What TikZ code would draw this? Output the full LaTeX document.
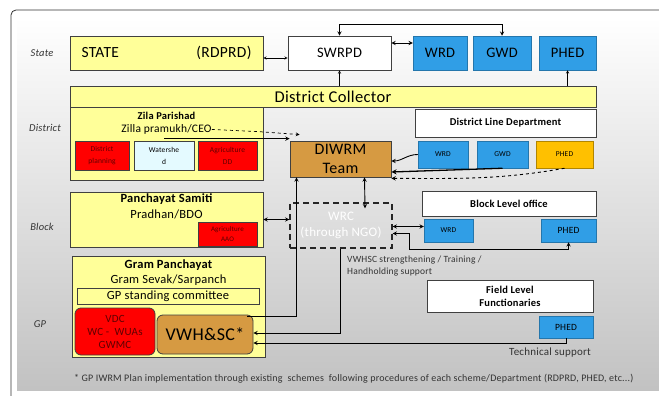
\documentclass[tikz,border=0pt]{standalone}
\usepackage{fontspec}
\setmainfont{Carlito}[LetterSpace=2]
\usetikzlibrary{arrows.meta, positioning, calc}

\definecolor{boxyellow}{RGB}{255,255,153}
\definecolor{deptblue}{RGB}{48,158,230}
\definecolor{teambrown}{RGB}{214,154,66}
\definecolor{phedorange}{RGB}{255,192,0}
\definecolor{shedcyan}{RGB}{228,250,255}
\definecolor{textred}{RGB}{95,0,0}

\begin{document}
\begin{tikzpicture}[x=1pt, y=-1pt,
    block/.style={rectangle, draw=black!75, line width=0.8pt, fill=boxyellow, inner sep=0pt, align=center},
    whitebox/.style={block, fill=white},
    redbox/.style={block, fill=red, text=textred, font=\fontsize{7.5}{12}\selectfont},
    dept/.style={rectangle, draw=deptblue!75!black, line width=0.5pt, fill=deptblue, inner sep=0pt, align=center},
    teambox/.style={block, fill=teambrown},
    wrcbox/.style={rectangle, draw=black!85, dashed, dash pattern=on 6pt off 4pt, line width=1.3pt, text=white, align=center, font=\fontsize{13}{16}\selectfont},
    title/.style={font=\bfseries\fontsize{12.5}{14}\selectfont, inner sep=0pt},
    sub/.style={font=\fontsize{12.5}{14}\selectfont, inner sep=0pt},
    head/.style={font=\bfseries\fontsize{10.5}{13}\selectfont},
    levellabel/.style={font=\itshape\fontsize{10.5}{12}\selectfont, text=black!80},
    annot/.style={font=\fontsize{10}{12}\selectfont, text=black!80, inner sep=0pt},
    arrow/.style={->, >=stealth, line width=0.9pt},
    biarrow/.style={<->, >=stealth, line width=0.9pt},
    dashedarrow/.style={->, >=stealth, dashed, line width=0.7pt}
  ]
  \useasboundingbox (0,0) rectangle (659,396);
  % --- Background panel ---
  \shade[top color=white, bottom color=black!24] (17,17) rectangle (659,390);
  \draw[black!80, line width=0.8pt, rounded corners=5pt] (11,396) -- (11,10) -- (659,10);

  % --- Level labels ---
  \node[levellabel] (lstate) at (42,53) {State};
  \node[levellabel] (ldistrict) at (45,128) {District};
  \node[levellabel] (lblock) at (42,227) {Block};
  \node[levellabel] (lgp) at (40,324) {GP};

  % --- State level ---
  \node[block, minimum width=193pt, minimum height=34pt, text width=170pt, font=\fontsize{15.5}{18}\selectfont] (state) at (166.5,53) {STATE\hfill(RDPRD)};
  \node[whitebox, minimum width=103pt, minimum height=34pt, font=\fontsize{14.5}{16}\selectfont] (swrpd) at (339.5,53) {SWRPD};
  \node[dept, minimum width=54pt, minimum height=34pt, font=\fontsize{14.5}{16}\selectfont] (swrd) at (440,53) {WRD};
  \node[dept, minimum width=58pt, minimum height=34pt, font=\fontsize{14.5}{16}\selectfont] (sgwd) at (502,53) {GWD};
  \node[dept, minimum width=57pt, minimum height=34pt, font=\fontsize{14.5}{16}\selectfont] (sphed) at (567.5,53) {PHED};

  % --- District level ---
  \node[block, minimum width=526pt, minimum height=21pt, font=\fontsize{16.5}{18}\selectfont] (dc) at (333,96.5) {District Collector};
  \node[block, minimum width=193pt, minimum height=73pt] (zp) at (166.5,143.5) {};
  \node[title, font=\bfseries\fontsize{10.5}{12}\selectfont] (zptitle) at (166.5,116) {Zila Parishad};
  \node[sub, font=\fontsize{11.5}{13}\selectfont] (ceo) at (166.5,129.5) {Zilla pramukh/CEO};
  \node[redbox, minimum width=54pt, minimum height=29pt] (dplan) at (102,155.5) {District\\planning};
  \node[block, fill=shedcyan, minimum width=60pt, minimum height=29pt, font=\fontsize{7.5}{12}\selectfont] (wshed) at (164,155.5) {Watershe\\d};
  \node[redbox, minimum width=59pt, minimum height=29pt] (agdd) at (227.5,155.5) {Agriculture\\DD};

  \node[whitebox, minimum width=181pt, minimum height=28pt, head] (dld) at (505.5,123) {District Line Department};
  \node[dept, minimum width=50pt, minimum height=27pt, font=\fontsize{7.5}{9}\selectfont] (dwrd) at (443,154.5) {WRD};
  \node[dept, minimum width=51pt, minimum height=27pt, font=\fontsize{7.5}{9}\selectfont] (dgwd) at (502.5,154.5) {GWD};
  \node[dept, fill=phedorange, draw=phedorange!70!black, minimum width=57pt, minimum height=27pt, font=\fontsize{7.5}{9}\selectfont] (dphed) at (564.5,154.5) {PHED};
  \node[teambox, minimum width=101pt, minimum height=36pt, font=\fontsize{16}{19}\selectfont] (diwrm) at (340.5,159) {DIWRM\\Team};

  % --- Block level ---
  \node[block, minimum width=193pt, minimum height=55pt] (ps) at (166.5,219.5) {};
  \node[title] (pstitle) at (166.5,199.5) {Panchayat Samiti};
  \node[sub] (bdo) at (166.5,214) {Pradhan/BDO};
  \node[redbox, minimum width=59pt, minimum height=24pt, font=\fontsize{7}{10}\selectfont] (aao) at (227.5,234) {Agriculture\\AAO};
  \node[wrcbox, minimum width=102pt, minimum height=45pt] (wrc) at (341,225.5) {WRC\\(through NGO)};
  \node[whitebox, minimum width=174pt, minimum height=25pt, head] (blo) at (509,203.5) {Block Level office};
  \node[dept, minimum width=49pt, minimum height=23pt, font=\fontsize{7.5}{9}\selectfont] (bwrd) at (448.5,230.5) {WRD};
  \node[dept, minimum width=55pt, minimum height=23pt, font=\fontsize{9.5}{11}\selectfont] (bphed) at (568.5,230.5) {PHED};

  % --- GP level ---
  \node[block, minimum width=193pt, minimum height=101pt] (gp) at (168.5,306.5) {};
  \node[title] (gptitle) at (168.5,265) {Gram Panchayat};
  \node[sub] (sarpanch) at (168.5,280.5) {Gram Sevak/Sarpanch};
  \node[block, minimum width=182pt, minimum height=16pt, font=\fontsize{12.5}{14}\selectfont] (gpsc) at (168,296) {GP standing committee};
  \node[block, fill=red, text=textred, rounded corners=6pt, minimum width=80pt, minimum height=47pt, font=\fontsize{11}{13}\selectfont] (vdc) at (115,331.5) {VDC\\WC -\ \ WUAs\\GWMC};
  \node[teambox, rounded corners=6pt, minimum width=96pt, minimum height=39pt, font=\fontsize{18}{20}\selectfont] (vwhsc) at (205,334.5) {VWH\&SC*};

  \node[whitebox, minimum width=166pt, minimum height=32pt, head] (flf) at (510,296) {Field Level\\Functionaries};
  \node[dept, minimum width=54pt, minimum height=22pt, font=\fontsize{9.5}{11}\selectfont] (fphed) at (566,327) {PHED};

  % --- Annotations ---
  \node[annot, anchor=west, align=left, font=\fontsize{9.5}{12.5}\selectfont] (vwhsctxt) at (347,266) {VWHSC strengthening / Training /\\Handholding support};
  \node[annot, font=\fontsize{11}{13}\selectfont] (techtxt) at (550,353) {Technical support};
  \node[annot, anchor=west] (footnote) at (74,379) {* GP IWRM Plan implementation through existing\ \ schemes\ \ following procedures of each scheme/Department (RDPRD, PHED, etc...)};

  % --- State connectors ---
  \draw[biarrow, line width=0.4pt] ([yshift=-5pt]state.east) -- ([yshift=-5pt]swrpd.west);
  \draw[biarrow] ([yshift=10pt]swrpd.east) -- ([yshift=10pt]swrd.west);
  \draw[biarrow] (swrpd.north) -- ++(0,-11) -| (sgwd.north);
  \draw[arrow, line width=0.5pt] (dc.north -| swrpd.south) -- (swrpd.south);
  \draw[arrow, line width=0.5pt] (dc.north -| sphed.south) -- (sphed.south);

  % --- District connectors ---
  \draw[dashedarrow] (ceo.east) -- ++(45,2) -- ($(diwrm.north west)+(10,-6)$);
  \draw[arrow] ([yshift=2pt]wshed.north) -- ([yshift=2pt]diwrm.north west);
  \draw[arrow] (dwrd.west) to[out=180, in=0] ([yshift=-2pt]diwrm.east);
  \draw[arrow, line width=1.3pt] (dgwd.south) -- ([yshift=-13pt]diwrm.east);
  \draw[dashedarrow, line width=0.9pt] (dphed.south) to[out=190, in=0] ([yshift=-1pt]diwrm.south east);

  % --- Block connectors ---
  \draw[biarrow] ([xshift=24pt]diwrm.south) -- ([xshift=24pt, yshift=-6pt]wrc.north);
  \draw[biarrow] (ps.east) -- (ps.east -| wrc.west);
  \draw[biarrow] ([yshift=4pt]bwrd.west) -- ([yshift=4pt]bwrd.west -| wrc.east);
  \draw[biarrow] (bphed.south) -- ++(0,7) -| ($(wrc.east)+(17,8)$) -- ($(wrc.east)+(0,8)$);

  % --- GP connectors ---
  \draw[arrow] ($(vwhsc.north east)+(-6,2)$) -| ([xshift=-44pt]diwrm.south);
  \draw[arrow] ([xshift=-1pt]wrc.south) |- ([yshift=1.5pt]vwhsc.east);
  \draw[arrow] (fphed.south) |- ([yshift=-8.5pt]vwhsc.east);
\end{tikzpicture}
\end{document}
